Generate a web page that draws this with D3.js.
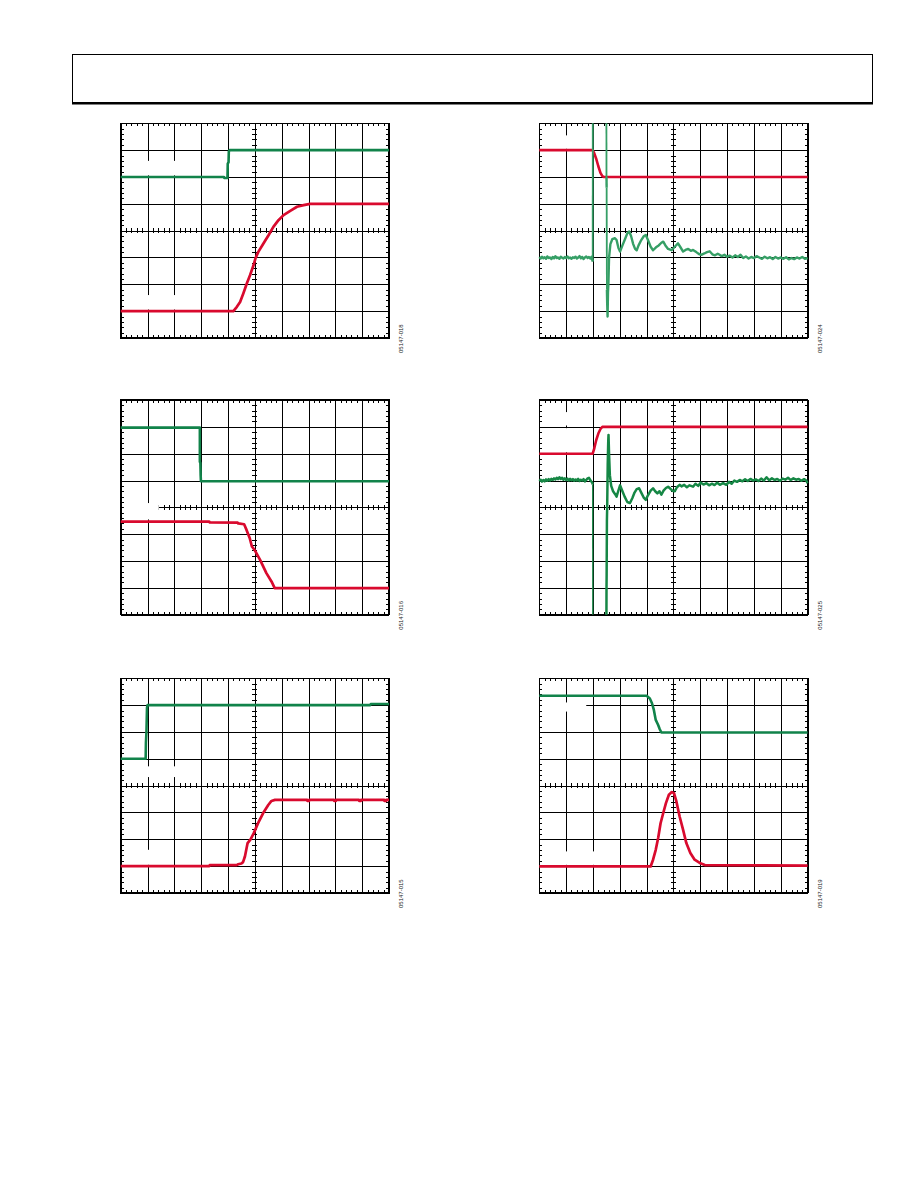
<!DOCTYPE html>
<html><head><meta charset="utf-8">
<script src="https://cdn.jsdelivr.net/npm/d3@7"></script>
<style>body{margin:0;background:#fff}</style>
</head><body>
<script>
// ---- data (x in time divisions 0..10, y in vertical divisions -4..4) ----
const plotLabels = ["05147-018","05147-024","05147-016","05147-025","05147-015","05147-019"];
const xDivTicks = [0,1,2,3,4,5,6,7,8,9,10];
const yDivTicks = [-4,-3,-2,-1,0,1,2,3,4];

const p1Green = [[0,2],[3.85,2],[3.86,1.96],[3.98,1.96],[3.99,2.5],[4.02,2.55],[4.03,2.95],[4.06,3],[10,3]];
const p1Red = [[0,-3],[4.2,-3],[4.33,-2.84],[4.45,-2.66],[4.57,-2.34],[4.7,-1.97],[4.82,-1.66],[4.95,-1.29],[5.02,-1.04],[5.13,-0.79],[5.32,-0.48],[5.51,-0.17],[5.69,0.14],[5.88,0.39],[6.07,0.58],[6.32,0.74],[6.57,0.89],[6.82,0.95],[7.06,1.0],[10,1.0]];

const p2Red = [[0,3],[1.99,3],[2.05,2.88],[2.12,2.68],[2.2,2.4],[2.28,2.15],[2.35,2.03],[2.4,2],[10,2]];
const p2Green = [[0,-0.98],[0.05,-1.04],[0.1,-0.97],[0.15,-1.03],[0.2,-0.99],[0.25,-1.05],[0.3,-0.96],[0.35,-1.02],[0.4,-1.0],[0.45,-1.06],[0.5,-0.98],[0.55,-1.03],[0.6,-0.95],[0.65,-1.02],[0.7,-1.0],[0.75,-1.05],[0.8,-0.97],[0.85,-1.01],[0.9,-1.04],[0.95,-0.98],[1.0,-1.02],[1.05,-0.96],[1.1,-1.03],[1.15,-1.0],[1.2,-1.05],[1.25,-0.99],[1.3,-1.02],[1.35,-0.97],[1.4,-1.04],[1.45,-1.0],[1.5,-0.95],[1.55,-1.03],[1.6,-0.98],[1.65,-1.06],[1.7,-1.0],[1.75,-0.96],[1.8,-1.02],[1.85,-0.98],[1.9,-1.04],[1.95,-0.97],[1.98,-1.1],[1.99,-1.15],[1.995,5],[2.5,5],[2.505,2.0],[2.51,1.6],[2.52,-2.2],[2.53,-2.7],[2.545,-3.2],[2.56,-2.3],[2.575,-2.0],[2.6,-1.0],[2.65,-0.5],[2.72,-0.32],[2.82,-0.28],[2.88,-0.35],[2.95,-0.65],[3.01,-0.78],[3.1,-0.55],[3.2,-0.3],[3.28,-0.1],[3.35,-0.03],[3.42,-0.2],[3.5,-0.5],[3.57,-0.68],[3.63,-0.73],[3.7,-0.55],[3.8,-0.35],[3.9,-0.2],[3.97,-0.16],[4.05,-0.35],[4.15,-0.6],[4.24,-0.73],[4.35,-0.62],[4.45,-0.55],[4.55,-0.45],[4.62,-0.41],[4.7,-0.55],[4.8,-0.68],[4.93,-0.73],[5.05,-0.6],[5.17,-0.47],[5.25,-0.6],[5.36,-0.78],[5.45,-0.72],[5.55,-0.68],[5.65,-0.75],[5.73,-0.72],[5.85,-0.8],[5.95,-0.87],[6.04,-0.9],[6.15,-0.85],[6.25,-0.8],[6.35,-0.77],[6.45,-0.88],[6.55,-0.92],[6.65,-0.86],[6.72,-0.9],[6.8,-0.95],[6.9,-0.9],[7.0,-0.97],[7.1,-0.93],[7.2,-1.0],[7.3,-0.92],[7.4,-0.98],[7.5,-0.9],[7.6,-1.02],[7.7,-0.96],[7.8,-1.04],[7.9,-0.98],[8.0,-1.02],[8.1,-0.95],[8.2,-1.0],[8.3,-1.05],[8.4,-0.97],[8.5,-1.03],[8.6,-0.99],[8.7,-1.06],[8.8,-0.98],[8.9,-1.04],[9.0,-1.0],[9.1,-1.05],[9.2,-0.99],[9.3,-1.07],[9.4,-1.02],[9.5,-1.06],[9.6,-1.0],[9.7,-1.04],[9.8,-0.98],[9.9,-1.05],[10,-1.02]];

const p3Green = [[0,2.97],[2.95,2.97],[2.95,1.7],[2.97,1.65],[2.98,1.2],[2.99,0.97],[10,0.97]];
const p3Red = [[0,-0.53],[3.3,-0.53],[3.32,-0.56],[4.36,-0.57],[4.38,-0.6],[4.6,-0.63],[4.69,-0.84],[4.81,-1.15],[4.89,-1.46],[5.0,-1.6],[5.19,-1.95],[5.43,-2.45],[5.62,-2.76],[5.74,-3.01],[10,-3.01]];

const p4Red = [[0,2],[1.99,2],[2.05,2.2],[2.12,2.5],[2.2,2.75],[2.28,2.92],[2.35,3],[10,3]];
const p4Green = [[0,0.98],[0.05,1.03],[0.1,0.96],[0.15,1.02],[0.2,0.97],[0.25,1.04],[0.3,0.99],[0.35,1.05],[0.4,1.0],[0.45,1.06],[0.5,1.02],[0.55,1.08],[0.6,1.04],[0.65,1.1],[0.7,1.05],[0.75,1.12],[0.8,1.06],[0.85,1.1],[0.9,1.03],[0.95,1.08],[1.0,1.02],[1.05,1.07],[1.1,1.0],[1.15,1.06],[1.2,1.01],[1.25,1.05],[1.3,0.99],[1.35,1.04],[1.4,1.0],[1.45,1.06],[1.5,0.98],[1.55,1.03],[1.6,1.0],[1.65,1.05],[1.7,0.97],[1.75,1.02],[1.8,1.08],[1.85,1.1],[1.9,1.02],[1.95,0.95],[1.98,0.9],[1.99,0.85],[1.995,-5],[2.5,-5],[2.505,-3.0],[2.51,-2.5],[2.52,-0.5],[2.53,0.0],[2.55,1.6],[2.57,2.5],[2.58,2.7],[2.6,2.0],[2.63,1.2],[2.68,0.8],[2.75,0.6],[2.82,0.5],[2.88,0.4],[2.94,0.6],[3.01,0.82],[3.08,0.65],[3.18,0.4],[3.28,0.2],[3.38,0.16],[3.47,0.35],[3.55,0.55],[3.63,0.68],[3.72,0.71],[3.8,0.55],[3.9,0.35],[3.97,0.28],[4.05,0.45],[4.15,0.62],[4.24,0.71],[4.32,0.6],[4.4,0.52],[4.48,0.6],[4.55,0.47],[4.63,0.62],[4.72,0.72],[4.8,0.77],[4.88,0.7],[4.96,0.62],[5.05,0.6],[5.13,0.75],[5.23,0.84],[5.3,0.78],[5.4,0.84],[5.5,0.75],[5.6,0.82],[5.73,0.77],[5.82,0.88],[5.92,0.8],[6.02,0.92],[6.12,0.85],[6.23,0.9],[6.33,0.82],[6.43,0.88],[6.53,0.83],[6.63,0.92],[6.73,0.84],[6.85,0.9],[6.97,0.84],[7.07,0.95],[7.17,0.88],[7.27,1.0],[7.37,0.95],[7.47,1.02],[7.57,0.97],[7.67,1.05],[7.77,0.98],[7.87,1.06],[7.97,1.0],[8.07,1.04],[8.17,0.98],[8.27,1.07],[8.37,1.0],[8.47,1.12],[8.57,1.01],[8.67,1.08],[8.77,1.02],[8.87,1.06],[8.97,0.99],[9.07,1.07],[9.17,1.03],[9.27,1.1],[9.37,1.02],[9.47,1.08],[9.57,1.03],[9.67,1.06],[9.77,0.99],[9.87,1.05],[9.95,1.0],[10,0.9]];

const p5Green = [[0,1],[0.93,1],[0.94,1.6],[0.96,2.0],[0.98,2.9],[1.0,3.0],[9.3,3.0],[9.32,3.04],[10,3.04]];
const p5Red = [[0,-3],[3.3,-3],[3.32,-2.96],[4.32,-2.96],[4.38,-2.93],[4.5,-2.9],[4.56,-2.85],[4.63,-2.64],[4.73,-2.14],[4.84,-2.0],[4.96,-1.77],[5.12,-1.4],[5.31,-1.02],[5.5,-0.72],[5.62,-0.57],[5.75,-0.53],[6.95,-0.53],[6.96,-0.57],[7.02,-0.57],[7.03,-0.53],[7.95,-0.53],[7.96,-0.57],[8.02,-0.57],[8.03,-0.53],[8.88,-0.53],[8.89,-0.57],[8.95,-0.57],[8.96,-0.53],[9.82,-0.53],[9.83,-0.57],[9.89,-0.57],[9.9,-0.53],[10,-0.53]];

const p6Green = [[0,3.35],[4.0,3.35],[4.12,3.25],[4.2,3.07],[4.27,2.82],[4.34,2.45],[4.43,2.26],[4.49,2.1],[4.55,1.98],[10,1.98]];
const p6Red = [[0,-3.01],[4.15,-3.01],[4.24,-2.76],[4.34,-2.39],[4.43,-1.95],[4.52,-1.4],[4.62,-1.02],[4.72,-0.65],[4.83,-0.34],[4.94,-0.24],[5.02,-0.28],[5.11,-0.59],[5.23,-1.15],[5.36,-1.65],[5.48,-2.14],[5.63,-2.51],[5.79,-2.76],[5.98,-2.88],[6.17,-2.96],[10,-2.98]];

// blanked (erased label) areas in division units [x0,x1,y0,y1]
const p1Blank = [[0.5,2.5,2.06,2.6],[0.5,2.5,-2.94,-2.4]];
const p2Blank = [[0.6,1.4,3.05,3.55]];
const p3Blank = [[0.12,1.42,-0.45,0.16]];
const p4Blank = [[0.6,1.4,2.05,2.95],[0.6,1.4,3.05,3.55]];
const p5Blank = [[0.5,2.5,0.32,0.72],[0.5,1.5,-2.95,-2.39]];
const p6Blank = [[0.1,1.75,2.76,3.1],[0.5,2.5,-2.95,-2.45]];

// ---- styles / layout ----
const RED = "#d90a2e", GREEN = "#11834a", GREEN_LIGHT = "#369f66", GREEN_MID = "#168745";
const lefts = [120.7, 539.3], tops = [123.3, 400, 678.3];
const W = 268.3, H = 214.7;

// [data, colour, stroke width, stroke width of very fast edges (null = same)]
const panels = [
  {traces:[[p1Green,GREEN,2.6,null],[p1Red,RED,2.7,null]], blanks:p1Blank},
  {traces:[[p2Red,RED,2.6,null],[p2Green,GREEN_LIGHT,2.4,1.8]], blanks:p2Blank},
  {traces:[[p3Green,GREEN,2.6,null],[p3Red,RED,2.7,null]], blanks:p3Blank},
  {traces:[[p4Red,RED,2.6,null],[p4Green,GREEN_MID,2.5,1.3]], blanks:p4Blank},
  {traces:[[p5Green,GREEN,2.6,null],[p5Red,RED,2.7,null]], blanks:p5Blank},
  {traces:[[p6Green,GREEN,2.6,null],[p6Red,RED,2.7,null]], blanks:p6Blank}
];

const svg = d3.select("body").append("svg").attr("width",918).attr("height",1188).style("display","block");
svg.append("rect").attr("width",918).attr("height",1188).attr("fill","#fff");

// header box
svg.append("rect").attr("x",72.5).attr("y",54.5).attr("width",800).attr("height",48.5)
  .attr("fill","none").attr("stroke","#000").attr("stroke-width",1);
svg.append("line").attr("x1",72).attr("x2",873).attr("y1",103.2).attr("y2",103.2)
  .attr("stroke","#000").attr("stroke-width",2.6);

const minorX = d3.range(0,50.5,1).map(v=>v/5);
const minorY = d3.range(-20,20.5,1).map(v=>v/5);

// split a trace into runs of slow / very fast (near-vertical) segments
function splitRuns(data){
  const runs = [];
  let cur = null;
  for(let k=0;k<data.length-1;k++){
    const a=data[k], b=data[k+1];
    const dx=Math.abs(b[0]-a[0]), dy=Math.abs(b[1]-a[1]);
    const fast = dy > 2.5 && dy/Math.max(dx,1e-6) > 150;
    if(!cur || cur.fast!==fast){ cur={fast, pts:[a]}; runs.push(cur); }
    cur.pts.push(b);
  }
  return runs;
}

panels.forEach((p,i)=>{
  const col = i%2, row = Math.floor(i/2);
  const L = lefts[col], T = tops[row];
  const g = svg.append("g").attr("transform",`translate(${L},${T})`);
  const x = d3.scaleLinear().domain([0,10]).range([0,W]);
  const y = d3.scaleLinear().domain([-4,4]).range([H,0]);

  function ax(axis, tx, ty){
    const a = g.append("g").attr("transform",`translate(${tx},${ty})`).attr("shape-rendering","crispEdges").call(axis);
    a.select(".domain").remove();
    a.selectAll("text").remove();
    a.selectAll("line").attr("stroke","#000").attr("stroke-width",1);
    return a;
  }
  // grid lines
  ax(d3.axisBottom(x).tickValues(xDivTicks).tickSize(-H).tickFormat(""), 0, H);
  ax(d3.axisLeft(y).tickValues(yDivTicks).tickSize(-W).tickFormat(""), 0, 0);
  // minor ticks on the frame
  ax(d3.axisBottom(x).tickValues(minorX).tickSize(3).tickFormat(""), 0, 0);
  ax(d3.axisTop(x).tickValues(minorX).tickSize(3).tickFormat(""), 0, H);
  ax(d3.axisRight(y).tickValues(minorY).tickSize(3).tickFormat(""), 0, 0);
  ax(d3.axisLeft(y).tickValues(minorY).tickSize(3).tickFormat(""), W, 0);
  // minor ticks on centre lines
  ax(d3.axisBottom(x).tickValues(minorX).tickSize(2.5).tickFormat(""), 0, y(0));
  ax(d3.axisTop(x).tickValues(minorX).tickSize(2.5).tickFormat(""), 0, y(0));
  ax(d3.axisRight(y).tickValues(minorY).tickSize(2.5).tickFormat(""), x(5), 0);
  ax(d3.axisLeft(y).tickValues(minorY).tickSize(2.5).tickFormat(""), x(5), 0);

  // erased label areas
  g.selectAll("rect.blank").data(p.blanks).join("rect").attr("class","blank")
    .attr("x",d=>x(d[0])).attr("width",d=>x(d[1])-x(d[0]))
    .attr("y",d=>y(d[3])).attr("height",d=>y(d[2])-y(d[3]))
    .attr("fill","#fff");

  // frame
  g.append("rect").attr("x",0).attr("y",0).attr("width",W).attr("height",H)
    .attr("fill","none").attr("stroke","#000").attr("stroke-width",1.2).attr("shape-rendering","crispEdges");

  // traces
  const cid = "clip"+i;
  g.append("clipPath").attr("id",cid).append("rect").attr("x",-1).attr("y",0).attr("width",W+2).attr("height",H);
  const line = d3.line().x(d=>x(d[0])).y(d=>y(d[1]));
  p.traces.forEach(([data,color,sw,thin])=>{
    const runs = thin ? splitRuns(data) : [{fast:false, pts:data}];
    runs.forEach(r=>{
      g.append("path").attr("d",line(r.pts)).attr("fill","none").attr("stroke",color)
        .attr("stroke-width", r.fast ? thin : sw).attr("stroke-linejoin","round").attr("stroke-linecap","butt")
        .attr("clip-path",`url(#${cid})`);
    });
  });

  // figure id label
  svg.append("text").attr("transform",`translate(${L+W+14},${T+H+15}) rotate(-90)`)
    .attr("font-family","Liberation Sans, Arial, sans-serif").attr("font-size",6).attr("fill","#222")
    .text(plotLabels[i]);
});
</script>
</body></html>
